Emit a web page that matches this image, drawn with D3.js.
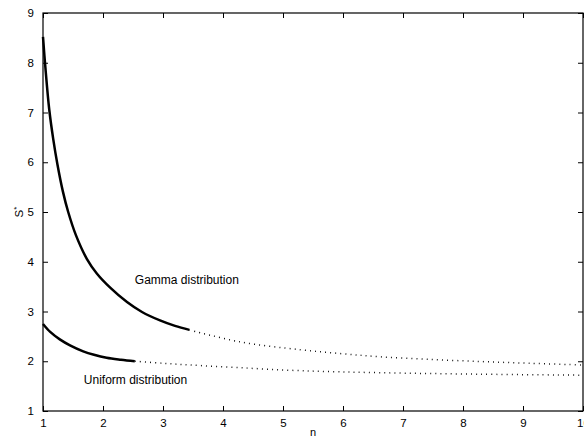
<!DOCTYPE html>
<html>
<head>
<meta charset="utf-8">
<script src="https://cdn.jsdelivr.net/npm/d3@7"></script>
<style>
  html, body { margin: 0; padding: 0; background: #fff; }
  svg { display: block; }
  text { font-family: "Liberation Sans", Arial, Helvetica, sans-serif; fill: #000; }
</style>
</head>
<body>
<svg id="chart" width="584" height="438"></svg>
<script>
// ---- data ----
const gammaSolidN = [1, 1.04, 1.105, 1.17, 1.24, 1.33, 1.42, 1.55, 1.73, 1.9, 2.12, 2.4, 2.65, 2.95, 3.2, 3.44];
const gammaSolidS = [8.52, 7.9, 7.05, 6.47, 5.96, 5.42, 5.0, 4.53, 4.06, 3.76, 3.48, 3.19, 2.99, 2.82, 2.71, 2.63];
const gammaDotN = [3.44, 4.28, 5.3, 6.0, 6.62, 7.4, 8.28, 9.1, 10];
const gammaDotS = [2.63, 2.39, 2.23, 2.15, 2.09, 2.04, 1.995, 1.96, 1.925];
const uniformSolidN = [1, 1.12, 1.28, 1.45, 1.67, 1.85, 2.06, 2.3, 2.53];
const uniformSolidS = [2.75, 2.59, 2.44, 2.32, 2.2, 2.13, 2.07, 2.03, 2.0];
const uniformDotN = [2.53, 3.0, 3.45, 4.28, 5.3, 6.62, 8.28, 10];
const uniformDotS = [2.0, 1.96, 1.925, 1.87, 1.81, 1.77, 1.74, 1.72];
const xTicks = [1, 2, 3, 4, 5, 6, 7, 8, 9, 10];
const yTicks = [1, 2, 3, 4, 5, 6, 7, 8, 9];
const annotations = [
  { text: "Gamma distribution", n: 2.53, s: 3.55 },
  { text: "Uniform distribution", n: 1.68, s: 1.55 }
];

// ---- layout ----
const svg = d3.select("#chart");
const L = 43, R = 583, T = 13, B = 411;
const x = d3.scaleLinear().domain([1, 10]).range([L, R]);
const y = d3.scaleLinear().domain([1, 9]).range([B, T]);
const tickLen = 5;

// box
svg.append("rect")
  .attr("x", L).attr("y", T).attr("width", R - L).attr("height", B - T)
  .attr("fill", "none").attr("stroke", "#000").attr("stroke-width", 1.2);

// axes
const xAxis = d3.axisBottom(x).tickValues(xTicks).tickSize(-tickLen).tickPadding(8).tickFormat(d3.format("d"));
const yAxis = d3.axisLeft(y).tickValues(yTicks).tickSize(-tickLen).tickPadding(9).tickFormat(d3.format("d"));
const gx = svg.append("g").attr("transform", `translate(0,${B})`).call(xAxis);
const gy = svg.append("g").attr("transform", `translate(${L},0)`).call(yAxis);
const gxTop = svg.append("g").attr("transform", `translate(0,${T})`)
  .call(d3.axisTop(x).tickValues(xTicks).tickSize(-tickLen).tickFormat(""));
const gyRight = svg.append("g").attr("transform", `translate(${R},0)`)
  .call(d3.axisRight(y).tickValues(yTicks).tickSize(-tickLen).tickFormat(""));
[gx, gy, gxTop, gyRight].forEach(g => {
  g.select(".domain").remove();
  g.selectAll(".tick line").attr("stroke", "#000").attr("stroke-width", 1);
  g.selectAll(".tick text").attr("font-size", 11.5).attr("font-family", "Liberation Sans, Arial, sans-serif").attr("fill", "#000");
});

// axis labels
svg.append("text").attr("x", x(5.5)).attr("y", 436).attr("text-anchor", "middle")
  .attr("font-size", 11).text("n");
const yl = svg.append("text").attr("transform", `translate(23,${(T + B) / 2}) rotate(-90)`)
  .attr("text-anchor", "middle").attr("font-size", 11.5);
yl.append("tspan").text("S");
yl.append("tspan").attr("dy", -4).attr("font-size", 8).text("*");

// lines
const line = d3.line().x(d => x(d[0])).y(d => y(d[1])).curve(d3.curveCatmullRom.alpha(0.5));
const zip = (a, b) => a.map((v, i) => [v, b[i]]);

function drawDotted(n, s) {
  svg.append("path").datum(zip(n, s)).attr("d", line)
    .attr("fill", "none").attr("stroke", "#000").attr("stroke-width", 1.5)
    .attr("stroke-dasharray", "0.9,4.2");
}
function drawSolid(n, s) {
  svg.append("path").datum(zip(n, s)).attr("d", line)
    .attr("fill", "none").attr("stroke", "#000").attr("stroke-width", 2.5)
    .attr("stroke-linejoin", "round");
}
drawDotted(gammaDotN, gammaDotS);
drawDotted(uniformDotN, uniformDotS);
drawSolid(gammaSolidN, gammaSolidS);
drawSolid(uniformSolidN, uniformSolidS);

// annotations
svg.selectAll("text.ann").data(annotations).enter().append("text")
  .attr("class", "ann")
  .attr("x", d => x(d.n)).attr("y", d => y(d.s))
  .attr("font-size", 12)
  .text(d => d.text);
</script>
</body>
</html>
